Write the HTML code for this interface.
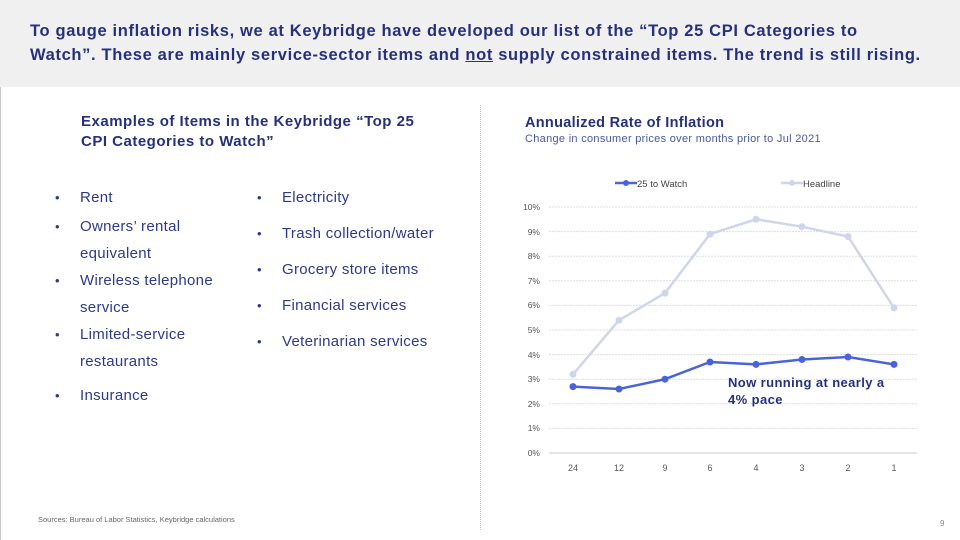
<!DOCTYPE html>
<html><head><meta charset="utf-8"><style>
body{margin:0;width:960px;height:540px;background:#fff;font-family:"Liberation Sans",sans-serif;position:relative;overflow:hidden;color:#22307a}
.hdr{position:absolute;left:0;top:0;width:960px;height:87px;background:#f0f0f0}
.hdr div{position:absolute;left:30px;top:19px;font-size:16.5px;font-weight:bold;line-height:24px;color:#25307e;letter-spacing:0.65px;white-space:nowrap}
.st{position:absolute;left:81px;top:112px;font-size:15px;font-weight:bold;line-height:20px;color:#25307e;letter-spacing:0.5px;white-space:nowrap}
.li{position:absolute;font-size:15px;color:#2d3a8a;line-height:27px;letter-spacing:0.3px;white-space:nowrap}
.li:before{content:"•";position:absolute;left:-25px;font-size:13px}
.sep{position:absolute;left:480px;top:105px;height:425px;border-left:1px dotted #bbb}
.src{position:absolute;left:38px;top:515px;font-size:7.5px;color:#666}
.pg{position:absolute;left:940px;top:519px;font-size:8px;color:#888}
.lb{position:absolute;left:0;top:87px;height:453px;border-left:1px solid #ccc}
</style></head><body>
<div class="hdr"><div>To gauge inflation risks, we at Keybridge have developed our list of the “Top 25 CPI Categories to<br>Watch”. These are mainly service-sector items and <u>not</u> supply constrained items. The trend is still rising.</div></div>
<div class="lb"></div>
<div class="st">Examples of Items in the Keybridge “Top 25<br>CPI Categories to Watch”</div>
<div class="li" style="left:80px;top:184px">Rent</div>
<div class="li" style="left:80px;top:213px">Owners’ rental<br>equivalent</div>
<div class="li" style="left:80px;top:267px">Wireless telephone<br>service</div>
<div class="li" style="left:80px;top:321px">Limited-service<br>restaurants</div>
<div class="li" style="left:80px;top:382px">Insurance</div>
<div class="li" style="left:282px;top:184px">Electricity</div>
<div class="li" style="left:282px;top:220px">Trash collection/water</div>
<div class="li" style="left:282px;top:256px">Grocery store items</div>
<div class="li" style="left:282px;top:292px">Financial services</div>
<div class="li" style="left:282px;top:328px">Veterinarian services</div>
<div class="sep"></div>
<svg style="position:absolute;left:0;top:0" width="960" height="540" font-family="Liberation Sans, sans-serif">
<text x="525" y="127" font-size="14.5" font-weight="bold" fill="#25307e" letter-spacing="0.3">Annualized Rate of Inflation</text>
<text x="525" y="142" font-size="11" fill="#4a58a0" letter-spacing="0.3">Change in consumer prices over months prior to Jul 2021</text>
<line x1="615" y1="183" x2="637" y2="183" stroke="#4a64d8" stroke-width="2.5"/><circle cx="626" cy="183" r="3" fill="#4a64d8"/>
<text x="637" y="187" font-size="9.5" fill="#444">25 to Watch</text>
<line x1="781" y1="183" x2="803" y2="183" stroke="#cfd5ea" stroke-width="2.5"/><circle cx="792" cy="183" r="3" fill="#cfd5ea"/>
<text x="803" y="187" font-size="9.5" fill="#444">Headline</text>
<g stroke="#ddd" stroke-width="1" stroke-dasharray="2,1">
<line x1="549" x2="917" y1="207" y2="207"/><line x1="549" x2="917" y1="231.6" y2="231.6"/><line x1="549" x2="917" y1="256.2" y2="256.2"/><line x1="549" x2="917" y1="280.8" y2="280.8"/><line x1="549" x2="917" y1="305.4" y2="305.4"/><line x1="549" x2="917" y1="330" y2="330"/><line x1="549" x2="917" y1="354.6" y2="354.6"/><line x1="549" x2="917" y1="379.2" y2="379.2"/><line x1="549" x2="917" y1="403.8" y2="403.8"/><line x1="549" x2="917" y1="428.4" y2="428.4"/></g>
<line x1="549" x2="917" y1="453" y2="453" stroke="#ccc"/>
<g font-size="8.5" fill="#555" text-anchor="end">
<text x="540" y="210">10%</text><text x="540" y="235">9%</text><text x="540" y="259">8%</text><text x="540" y="284">7%</text><text x="540" y="308">6%</text><text x="540" y="333">5%</text><text x="540" y="358">4%</text><text x="540" y="382">3%</text><text x="540" y="407">2%</text><text x="540" y="431">1%</text><text x="540" y="456">0%</text></g>
<g font-size="9" fill="#555" text-anchor="middle">
<text x="573" y="471">24</text><text x="619" y="471">12</text><text x="665" y="471">9</text><text x="710" y="471">6</text><text x="756" y="471">4</text><text x="802" y="471">3</text><text x="848" y="471">2</text><text x="894" y="471">1</text></g>
<polyline fill="none" stroke="#cfd5ea" stroke-width="2.5" points="573,374.3 619,320.2 665,293.1 710,234.1 756,219.3 802,226.7 848,236.5 894,307.9"/>
<g fill="#cfd5ea"><circle cx="573" cy="374.3" r="3.5"/><circle cx="619" cy="320.2" r="3.5"/><circle cx="665" cy="293.1" r="3.5"/><circle cx="710" cy="234.1" r="3.5"/><circle cx="756" cy="219.3" r="3.5"/><circle cx="802" cy="226.7" r="3.5"/><circle cx="848" cy="236.5" r="3.5"/><circle cx="894" cy="307.9" r="3.5"/></g>
<polyline fill="none" stroke="#4a64d8" stroke-width="2.5" points="573,386.6 619,389 665,379.2 710,362 756,364.4 802,359.5 848,357 894,364.4"/>
<g fill="#4a64d8"><circle cx="573" cy="386.6" r="3.5"/><circle cx="619" cy="389" r="3.5"/><circle cx="665" cy="379.2" r="3.5"/><circle cx="710" cy="362" r="3.5"/><circle cx="756" cy="364.4" r="3.5"/><circle cx="802" cy="359.5" r="3.5"/><circle cx="848" cy="357" r="3.5"/><circle cx="894" cy="364.4" r="3.5"/></g>
<text x="728" y="387" font-size="13" font-weight="bold" fill="#25307e" letter-spacing="0.4">Now running at nearly a</text>
<text x="728" y="404" font-size="13" font-weight="bold" fill="#25307e" letter-spacing="0.4">4% pace</text>
</svg>
<div class="src">Sources: Bureau of Labor Statistics, Keybridge calculations</div>
<div class="pg">9</div>
</body></html>
